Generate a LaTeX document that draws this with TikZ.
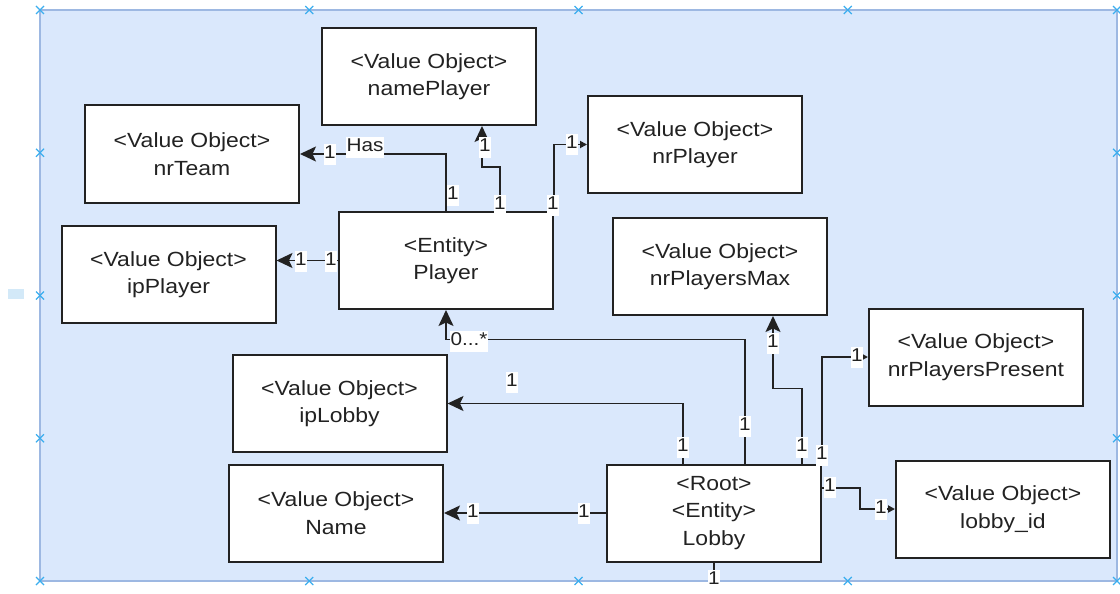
\documentclass[tikz,border=0pt]{standalone}
\usepackage{fontspec}
\setmainfont{Liberation Sans}[FakeStretch=1.12]
\usetikzlibrary{arrows.meta,calc}
\definecolor{canvasfill}{HTML}{DAE8FC}
\definecolor{canvasline}{HTML}{9DB8E2}
\definecolor{handle}{HTML}{3BAEEF}
\definecolor{tabfill}{HTML}{D3E9F8}
\definecolor{ink}{HTML}{222222}
\tikzset{
  vo/.style={draw=ink, line width=2pt, fill=white, minimum width=214pt,
    minimum height=97pt, inner sep=0pt, align=center, text=ink,
    font=\fontsize{20.5}{27.5}\selectfont},
  conn/.style={draw=ink, line width=1.8pt},
  bigtip/.style={-{Stealth[length=16pt,width=15pt,inset=3.5pt]}},
  smalltip/.style={-{Triangle[length=7pt,width=7pt]}},
  lbl/.style={fill=white, inner xsep=0.3pt, inner ysep=0.5pt, text height=14pt,
    text depth=6pt, text=ink, anchor=mid, font=\fontsize{18.5}{22}\selectfont},
  handlemark/.style={draw=handle, line width=1.3pt}
}
\begin{document}
\begin{tikzpicture}[x=1pt,y=-1pt]
\useasboundingbox (0,0) rectangle (1120,594);

% container
\draw[canvasline, fill=canvasfill, line width=1.5pt] (40,10) rectangle (1117,581);
\fill[tabfill] (8,289) rectangle (24,299);
\foreach \hx in {40,309.25,578.5,847.75,1117}{
  \draw[handlemark] (\hx-4,6)--(\hx+4,14) (\hx-4,14)--(\hx+4,6);
  \draw[handlemark] (\hx-4,577)--(\hx+4,585) (\hx-4,585)--(\hx+4,577);
}
\foreach \hy in {152.75,295.5,438.25}{
  \draw[handlemark] (36,\hy-4)--(44,\hy+4) (36,\hy+4)--(44,\hy-4);
  \draw[handlemark] (1113,\hy-4)--(1121,\hy+4) (1113,\hy+4)--(1121,\hy-4);
}

% objects
\node[vo] (namePlayer) at (429,76.5) {<Value Object>\\namePlayer};
\node[vo] (nrTeam) at (192,154) {<Value Object>\\nrTeam};
\node[vo] (nrPlayer) at (695,144.5) {<Value Object>\\nrPlayer};
\node[vo] (Player) at (446,260.5) {<Entity>\\Player};
\node[vo] (ipPlayer) at (168.5,274.5) {<Value Object>\\ipPlayer};
\node[vo] (nrPlayersMax) at (720,266.5) {<Value Object>\\nrPlayersMax};
\node[vo] (nrPlayersPresent) at (976,357) {<Value Object>\\nrPlayersPresent};
\node[vo] (ipLobby) at (339.5,403.5) {<Value Object>\\ipLobby};
\node[vo] (Name) at (336,513) {<Value Object>\\Name};
\node[vo] (Lobby) at (714,513) {<Root>\\<Entity>\\Lobby};
\node[vo] (lobbyid) at (1003,509) {<Value Object>\\lobby\_id};

% associations
\draw[conn,bigtip] (Player.north) |- (nrTeam.east);
\draw[conn,bigtip] ($(Player.north)!0.5!(Player.north east)$) -- ++(0,-44)
  -| ([xshift=53pt]namePlayer.south);
\draw[conn,smalltip] (Player.north east) |- (nrPlayer.west);
\draw[conn,bigtip] (Player.west) -- (Player.west -| ipPlayer.east);
\draw[conn,bigtip] ([xshift=31pt]Lobby.north) -- ++(0,-124) -| (Player.south);
\draw[conn,bigtip] ([xshift=-31pt]Lobby.north) |- (ipLobby.east);
\draw[conn,bigtip] ([xshift=88pt]Lobby.north) -- ++(0,-75)
  -| ([xshift=53pt]nrPlayersMax.south);
\draw[conn,smalltip] (Lobby.north east) |- (nrPlayersPresent.west);
\draw[conn,smalltip] ([yshift=25pt]Lobby.east) -- ++(38,0) |- (lobbyid.west);
\draw[conn,bigtip] (Lobby.west) -- (Name.east);
\coordinate (stubend) at (714,581);
\draw[conn] (Lobby.south) -- (stubend);

% multiplicities
\node[lbl] (mHasSrc) at (453,197) {1};
\node[lbl] (mHas) at (365,149) {Has};
\node[lbl] (mHasDst) at (330,156) {1};
\node[lbl] (mNameDst) at (485,149) {1};
\node[lbl] (mNameSrc) at (500,207) {1};
\node[lbl] (mNrSrc) at (553,207) {1};
\node[lbl] (mNrDst) at (572,146) {1};
\node[lbl] (mIpDst) at (301,263) {1};
\node[lbl] (mIpSrc) at (331,263) {1};
\node[lbl] (mPlDst) at (469,343) {0...*};
\node[lbl] (mPlSrc) at (745,428) {1};
\node[lbl] (mIlSrc) at (683,449) {1};
\node[lbl] (mIlDst) at (512,384) {1};
\node[lbl] (mMaxDst) at (773,345) {1};
\node[lbl] (mMaxSrc) at (802,449) {1};
\node[lbl] (mPresDst) at (857,359) {1};
\node[lbl] (mPresSrc) at (822,457) {1};
\node[lbl] (mIdSrc) at (830,489) {1};
\node[lbl] (mIdDst) at (881,511) {1};
\node[lbl] (mNmSrc) at (584,515) {1};
\node[lbl] (mNmDst) at (473,515) {1};
\node[lbl] (mStub) at (714,582) {1};
\end{tikzpicture}
\end{document}
